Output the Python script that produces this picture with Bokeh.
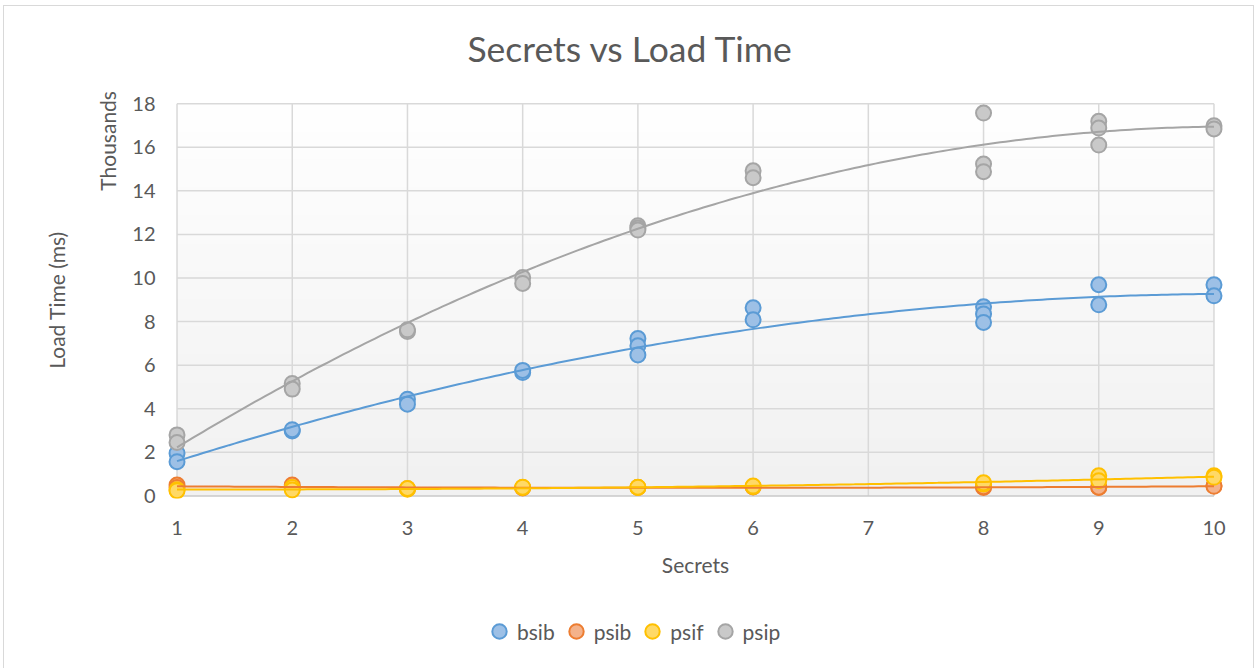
import numpy as np
from bokeh.plotting import figure
from bokeh.layouts import column
from bokeh.models import FixedTicker, Label, Legend, LegendItem, LinearAxis, Range1d
from bokeh.embed import file_html
from bokeh.resources import INLINE

# Axis ticks
secrets_ticks = [1, 2, 3, 4, 5, 6, 7, 8, 9, 10]
thousand_ticks = [0, 2, 4, 6, 8, 10, 12, 14, 16, 18]

# Measured load times (ms) per number of secrets
bsib_x = [1, 1, 2, 2, 3, 3, 4, 4, 5, 5, 5, 6, 6, 8, 8, 8, 9, 9, 10, 10]
bsib_ms = [1960, 1570, 2980, 3040, 4440, 4210, 5660, 5760, 7220, 6890, 6470,
           8630, 8080, 8680, 8350, 7960, 9690, 8770, 9690, 9180]

psib_x = [1, 1, 2, 2, 3, 4, 5, 6, 8, 8, 9, 9, 10, 10]
psib_ms = [500, 380, 500, 360, 330, 360, 380, 410, 380, 420, 380, 400, 460, 440]

psif_x = [1, 1, 2, 2, 3, 3, 4, 4, 5, 5, 6, 6, 8, 8, 9, 9, 10, 10]
psif_ms = [280, 240, 380, 270, 310, 340, 380, 400, 380, 400, 420, 450,
           540, 600, 920, 690, 920, 850]

psip_x = [1, 1, 2, 2, 3, 3, 4, 4, 5, 5, 5, 6, 6, 8, 8, 8, 9, 9, 9, 10, 10]
psip_ms = [2800, 2450, 5160, 4900, 7550, 7620, 10020, 9750, 12400, 12290, 12200,
           14920, 14600, 17570, 15230, 14880, 17190, 16880, 16100, 16990, 16840]

series_names = ["bsib", "psib", "psif", "psip"]
series_x = [bsib_x, psib_x, psif_x, psip_x]
series_ms = [bsib_ms, psib_ms, psif_ms, psip_ms]
line_colors = ["#5b9bd5", "#ed7d31", "#ffc000", "#a5a5a5"]
fill_colors = ["#9dc0e6", "#f4b28a", "#ffd966", "#c9c9c9"]

chart_title = "Secrets vs Load Time"

FONT = "Lato"
TEXT = "#595959"
W = 1249

x_lo, x_hi = secrets_ticks[0], secrets_ticks[-1]
y_lo, y_hi = thousand_ticks[0], thousand_ticks[-1]
x_range = Range1d(x_lo - 0.1, x_hi + 0.1)


def blank_strip(height):
    """A bare strip sharing the chart's x scale (the column aligns frames)."""
    f = figure(width=W, height=height, x_range=x_range,
               y_range=Range1d(0, height), output_backend="svg",
               toolbar_location=None, x_axis_location=None,
               y_axis_location=None, min_border_top=0, min_border_bottom=0,
               min_border_left=161, min_border_right=28,
               background_fill_color="white", border_fill_color="white")
    f.outline_line_color = None
    f.xgrid.visible = False
    f.ygrid.visible = False
    return f


# ---- title strip ----
title_fig = blank_strip(70)
title_fig.add_layout(Label(x=(x_lo + x_hi) / 2 - 0.564, y=28, text=chart_title,
                           text_align="center", text_baseline="middle",
                           text_font=FONT, text_font_size="35.5px",
                           text_color=TEXT))

# ---- main chart ----
p = figure(
    width=W, height=530,
    x_range=x_range,
    y_range=Range1d(y_lo - 0.12, y_hi + 0.1),
    output_backend="svg", toolbar_location=None,
    min_border_left=161, min_border_right=28,
    min_border_top=25, min_border_bottom=108,
    background_fill_color="white", border_fill_color="white",
)
p.outline_line_color = None

# Plot area with a soft vertical gradient (light gray at bottom, white at top)
n = 256
shade = np.linspace(241, 255, n).astype(np.uint8)
img = np.empty((n, 1), dtype=np.uint32)
view = img.view(dtype=np.uint8).reshape((n, 1, 4))
view[:, 0, 0] = shade
view[:, 0, 1] = shade
view[:, 0, 2] = shade
view[:, 0, 3] = 255
p.image_rgba(image=[img], x=x_lo, y=y_lo, dw=x_hi - x_lo, dh=y_hi - y_lo)

# Gridlines
p.xgrid.visible = False
p.ygrid.visible = False
p.segment(x0=secrets_ticks, y0=[y_lo] * len(secrets_ticks),
          x1=secrets_ticks, y1=[y_hi] * len(secrets_ticks),
          line_color="#d9d9d9", line_width=1.5)
p.segment(x0=[x_lo] * len(thousand_ticks[1:]), y0=thousand_ticks[1:],
          x1=[x_hi] * len(thousand_ticks[1:]), y1=thousand_ticks[1:],
          line_color="#d9d9d9", line_width=1.5)
p.segment(x0=[x_lo], y0=[y_lo], x1=[x_hi], y1=[y_lo],
          line_color="#c8c8c8", line_width=1.5)


def style_axis(ax):
    ax.axis_line_color = None
    ax.major_tick_line_color = None
    ax.minor_tick_line_color = None
    ax.major_tick_out = 0
    ax.major_label_text_font = FONT
    ax.major_label_text_font_size = "20px"
    ax.major_label_text_color = TEXT
    ax.axis_label_text_font = FONT
    ax.axis_label_text_font_size = "21px"
    ax.axis_label_text_font_style = "normal"
    ax.axis_label_text_color = TEXT


style_axis(p.xaxis[0])
style_axis(p.yaxis[0])
p.xaxis.ticker = FixedTicker(ticks=secrets_ticks)
p.yaxis.ticker = FixedTicker(ticks=thousand_ticks)
p.xaxis.major_label_standoff = 22
p.xaxis.axis_label = "Secrets"
p.xaxis.axis_label_standoff = 14
p.yaxis.major_label_standoff = 10

# Display-unit caption hung from the top of the value axis (the trailing
# em spaces push the visible word below the axis end), and the axis title
units_axis = LinearAxis(ticker=FixedTicker(ticks=[]),
                        axis_label="Thousands" + "\u2003" * 5,
                        axis_label_standoff=10, axis_label_align="end",
                        major_label_standoff=0)
style_axis(units_axis)
p.add_layout(units_axis, "left")
title_axis = LinearAxis(ticker=FixedTicker(ticks=[]), axis_label="Load Time (ms)",
                        axis_label_standoff=23, major_label_standoff=0)
style_axis(title_axis)
p.add_layout(title_axis, "left")

# Markers
for xs, ms, lc, fc in zip(series_x, series_ms, line_colors, fill_colors):
    ys = [v / 1000 for v in ms]
    p.scatter(xs, ys, size=15, marker="circle", fill_color=fc,
              line_color=lc, line_width=2)

# Second-order polynomial trendlines
for xs, ms, lc in zip(series_x, series_ms, line_colors):
    ys = np.array(ms) / 1000
    coef = np.polyfit(xs, ys, 2)
    tx = np.linspace(x_lo, x_hi, 200)
    p.line(tx, np.polyval(coef, tx), line_color=lc, line_width=2)

# ---- legend strip (key glyphs come from hidden copies of the series) ----
legend_fig = blank_strip(64)
key_renderers = [legend_fig.scatter(xs, [v / 1000 for v in ms], size=15,
                                    marker="circle", fill_color=fc,
                                    line_color=lc, line_width=2, visible=False)
                 for xs, ms, lc, fc in zip(series_x, series_ms,
                                           line_colors, fill_colors)]
legend = Legend(
    items=[LegendItem(label=name, renderers=[r])
           for name, r in zip(series_names, key_renderers)],
    orientation="horizontal", location=(316, 21),
    label_text_font=FONT, label_text_font_size="21px", label_text_color=TEXT,
    glyph_width=36, glyph_height=36, label_standoff=0, spacing=3,
    border_line_color=None, background_fill_alpha=0, padding=2, margin=0,
)
legend_fig.add_layout(legend)

page = column(title_fig, p, legend_fig, spacing=0,
              styles={"margin-left": "3px", "margin-top": "5px",
                      "border": "1px solid #d9d9d9"})

open("out.html", "w").write(file_html(page, INLINE))
